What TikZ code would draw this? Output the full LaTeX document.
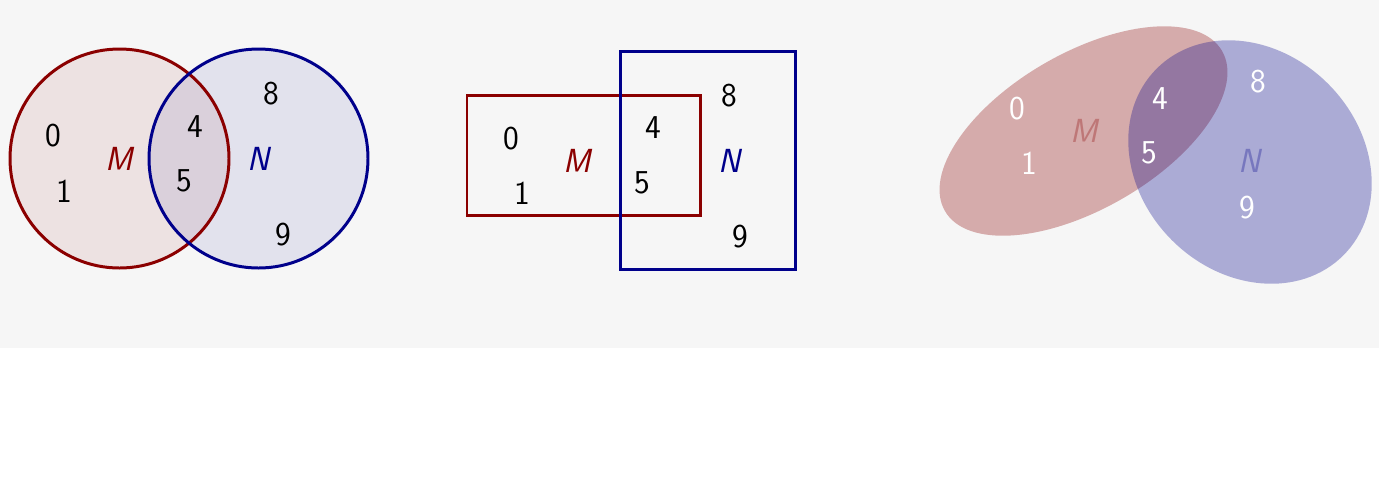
\documentclass[tikz,border=0pt]{standalone}
\usepackage{tikz}
\definecolor{mred}{RGB}{139,0,0}
\definecolor{nblue}{RGB}{0,0,139}
\definecolor{nen}{RGB}{246,246,246}
\begin{document}
\begin{tikzpicture}[x=0.02cm,y=0.02cm]
\tikzset{so/.style = {font=\fontsize{19}{22}\selectfont\sffamily, inner sep=0pt},
 ten/.style = {font=\fontsize{19}{22}\selectfont\sffamily\itshape, inner sep=0pt},
 vien/.style = {line width=1.7pt}}
\useasboundingbox (0,0) rectangle (1379,-478);
\fill[nen] (0,0) rectangle (1379,-348); % nền xám
% hình 1: hai đường tròn
\fill[mred, fill opacity=0.08] (119.5,-158.5) circle [radius=109.5];
\fill[nblue, fill opacity=0.08] (258.5,-158.5) circle [radius=109.5];
\draw[vien, mred] (119.5,-158.5) circle [radius=109.5];
\draw[vien, nblue] (258.5,-158.5) circle [radius=109.5];
\node[so] (a0) at (53,-136) {0};
\node[so] (a1) at (64,-191) {1};
\node[ten, mred] (aM) at (119,-159) {M};
\node[so] (a4) at (195,-127) {4};
\node[so] (a5) at (184,-181) {5};
\node[ten, nblue] (aN) at (259,-159) {N};
\node[so] (a8) at (271,-94) {8};
\node[so] (a9) at (283,-235) {9};
% hình 2: hai hình chữ nhật
\draw[vien, mred] (467,-95) rectangle (700,-215);
\draw[vien, nblue] (620,-51) rectangle (795,-269);
\node[so] (b0) at (511,-139) {0};
\node[so] (b1) at (522,-193) {1};
\node[ten, mred] (bM) at (577,-161) {M};
\node[so] (b4) at (653,-128) {4};
\node[so] (b5) at (642,-183) {5};
\node[ten, nblue] (bN) at (730,-161) {N};
\node[so] (b8) at (729,-96) {8};
\node[so] (b9) at (740,-237) {9};
% hình 3: hai elip
\fill[mred, fill opacity=0.3, rotate around={30:(1083.5,-131)}] (1083.5,-131) ellipse [x radius=160, y radius=78];
\fill[nblue, fill opacity=0.3, rotate around={-45:(1250,-162)}] (1250,-162) ellipse [x radius=132, y radius=110.5];
\node[so, white] (c0) at (1017,-109) {0};
\node[so, white] (c1) at (1029,-163) {1};
\node[ten, mred, text opacity=0.3] (cM) at (1084,-131) {M};
\node[so, white] (c4) at (1160,-99) {4};
\node[so, white] (c5) at (1149,-153) {5};
\node[ten, nblue, text opacity=0.3] (cN) at (1250,-161) {N};
\node[so, white] (c8) at (1258,-82) {8};
\node[so, white] (c9) at (1247,-208) {9};
\end{tikzpicture}
\end{document}
